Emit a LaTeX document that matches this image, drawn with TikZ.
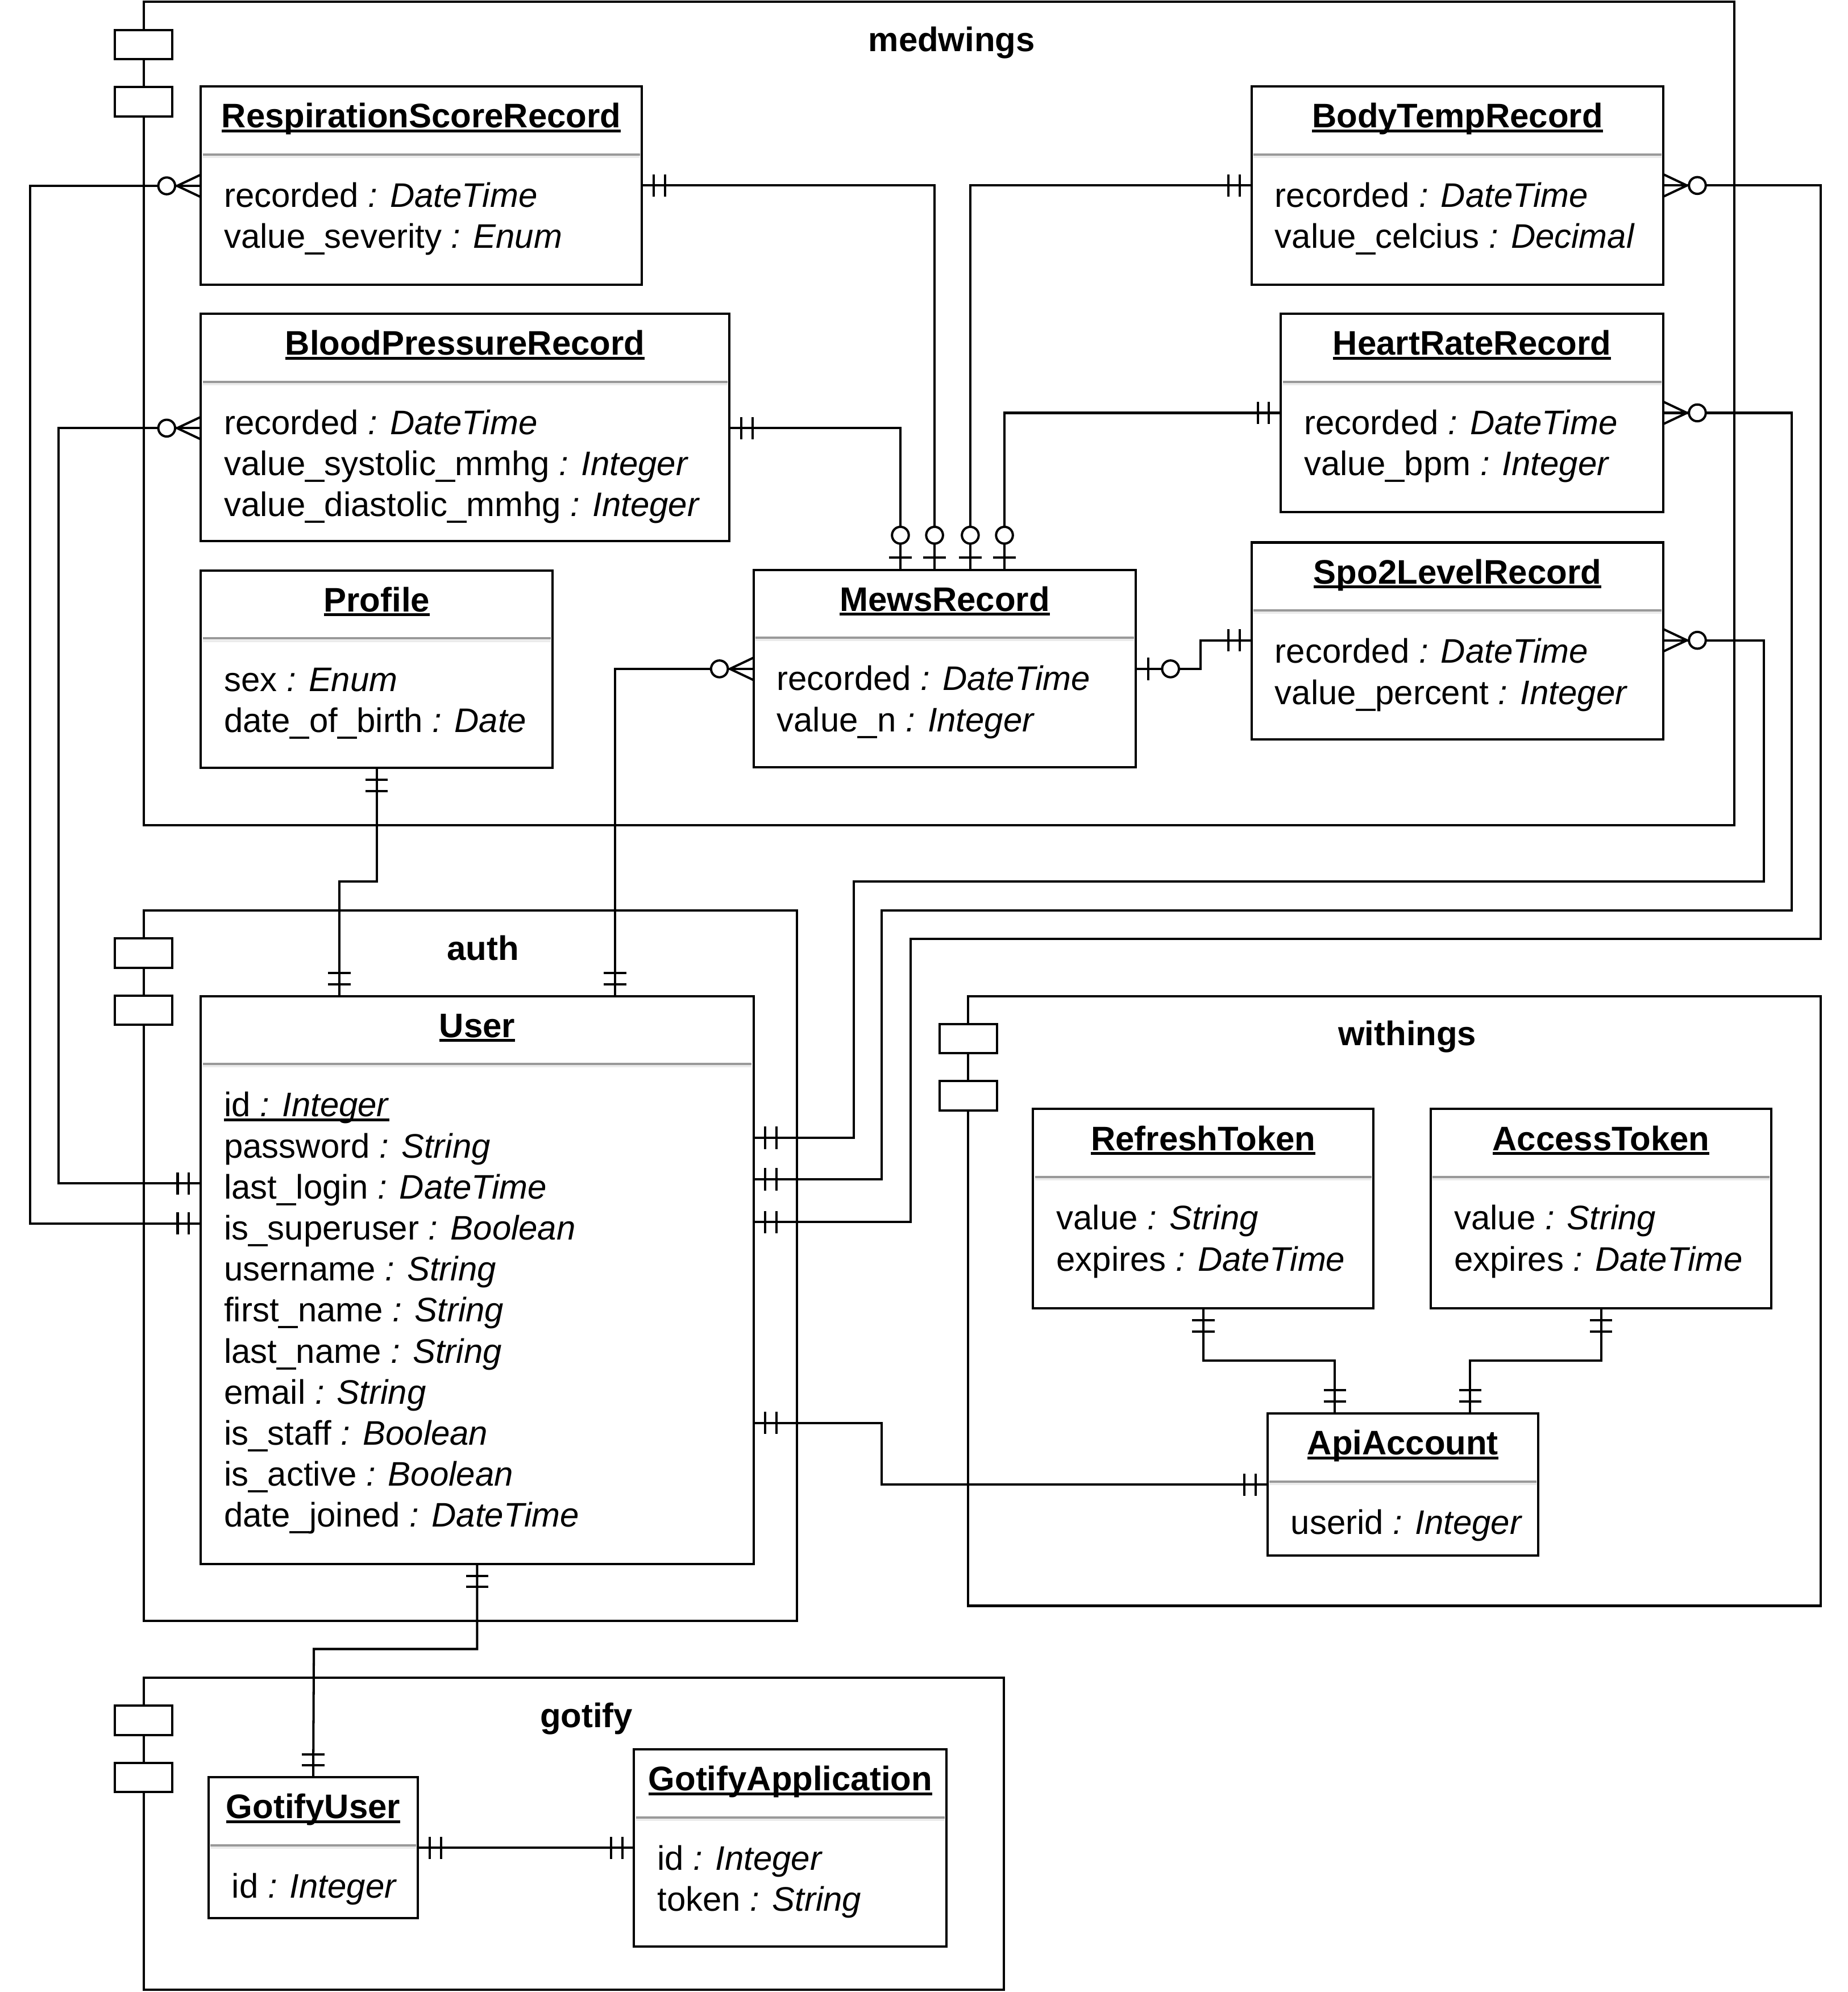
\documentclass[tikz,border=0pt]{standalone}
\usepackage{fontspec}
\setmainfont{Liberation Sans}
\usetikzlibrary{calc}
\definecolor{sepdark}{HTML}{999999}
\definecolor{seplight}{HTML}{EBEBEB}
\newcommand\ulx[1]{\setbox0\hbox{#1}\rlap{\rule[-1.8pt]{\wd0}{1.1pt}}\box0}
\tikzset{
 ebox/.style={draw, fill=white, rectangle, inner sep=0pt, outer sep=0pt, anchor=north west},
 pbox/.style={draw, rectangle, inner sep=0pt, outer sep=0pt, anchor=north west},
 icon/.style={draw, fill=white, rectangle, inner sep=0pt, outer sep=0pt, minimum width=22.5pt, minimum height=11.5pt, anchor=north},
 etitle/.style={inner sep=0pt, anchor=base},
 attr/.style={inner sep=0pt, anchor=base west},
 ptitle/.style={inner sep=0pt, anchor=base, font=\fontsize{13.4pt}{16pt}\selectfont\bfseries},
 sepd/.style={draw=sepdark, line width=0.9pt},
 sepl/.style={draw=seplight, line width=0.9pt},
 conn/.style={draw, line width=0.9pt},
}
\newcommand\entity[6]{%
 \node[ebox, minimum width={#4*0.5pt}, minimum height={#5*0.5pt}] (#1) at (#2,#3) {};
 \node[etitle] (#1-t) at ($(#1.north)+(0,32.5)$) {\ulx{\textbf{#6}}};
 \draw[sepd] ($(#1.north west)+(1.5,53.5)$) -- ($(#1.north east)+(-1.5,53.5)$);
 \draw[sepl] ($(#1.north west)+(1.5,55.4)$) -- ($(#1.north east)+(-1.5,55.4)$);
}
\newcommand\attrs[2]{\foreach \t [count=\i from 0] in {#2}{\node[attr] (#1-a\i) at ($(#1.north west)+(17.5,{95+32.3*\i})$) {\t};}}
\newcommand\package[6]{%
 \node[pbox, minimum width={#4*0.5pt}, minimum height={#5*0.5pt}] (#1) at (#2,#3) {};
 \node[icon] (#1-i1) at ($(#1.north west)+(0,22)$) {};
 \node[icon] (#1-i2) at ($(#1.north west)+(0,67)$) {};
 \node[ptitle] (#1-l) at ($(#1.north)+(10,39)$) {#6};
}
\newcommand\mOne[2]{\begin{scope}[shift={#1},rotate=#2]\draw (9.3,-8.8)--(9.3,8.8) (18.2,-8.8)--(18.2,8.8);\end{scope}}
\newcommand\zOne[2]{\begin{scope}[shift={#1},rotate=#2]\draw (9.5,-8.8)--(9.5,8.8); \draw[fill=white] (27.2,0) circle[radius=6.6];\end{scope}}
\newcommand\zMany[2]{\begin{scope}[shift={#1},rotate=#2]\draw (0,-8.8)--(18.6,0)--(0,8.8); \draw[fill=white] (26.8,0) circle[radius=6.6];\end{scope}}
\begin{document}
\begin{tikzpicture}[x=0.5pt,y=-0.5pt,line width=0.9pt,font=\fontsize{13.4pt}{16pt}\selectfont]
\useasboundingbox (0,0) rectangle (1454,1568);
% packages
\package{medwings}{113}{1.5}{1252}{648}{medwings}
\package{auth}{113}{716.7}{514}{559}{auth}
\package{withings}{762}{784}{671}{480}{withings}
\package{gotify}{113}{1320.6}{677}{245.4}{gotify}
% entities
\entity{rsr}{158}{68}{347}{156}{RespirationScoreRecord}
\attrs{rsr}{recorded \textit{: DateTime},value\_severity \textit{: Enum}}
\entity{btr}{985}{68}{324}{156}{BodyTempRecord}
\attrs{btr}{recorded \textit{: DateTime},value\_celcius \textit{: Decimal}}
\entity{bpr}{158}{247}{416}{179}{BloodPressureRecord}
\attrs{bpr}{recorded \textit{: DateTime},value\_systolic\_mmhg \textit{: Integer},value\_diastolic\_mmhg \textit{: Integer}}
\entity{hrr}{1008}{247}{301}{156}{HeartRateRecord}
\attrs{hrr}{recorded \textit{: DateTime},value\_bpm \textit{: Integer}}
\entity{prof}{158}{449}{277}{155.5}{Profile}
\attrs{prof}{sex \textit{: Enum},date\_of\_birth \textit{: Date}}
\entity{mews}{593}{448.5}{301}{155.5}{MewsRecord}
\attrs{mews}{recorded \textit{: DateTime},value\_n \textit{: Integer}}
\entity{spo2}{985}{427}{324}{155}{Spo2LevelRecord}
\attrs{spo2}{recorded \textit{: DateTime},value\_percent \textit{: Integer}}
\entity{user}{158}{784}{435}{447}{User}
\attrs{user}{\ulx{id \textit{: Integer}},password \textit{: String},last\_login \textit{: DateTime},is\_superuser \textit{: Boolean},username \textit{: String},first\_name \textit{: String},last\_name \textit{: String},email \textit{: String},is\_staff \textit{: Boolean},is\_active \textit{: Boolean},date\_joined \textit{: DateTime}}
\entity{reft}{813}{873}{268}{157}{RefreshToken}
\attrs{reft}{value \textit{: String},expires \textit{: DateTime}}
\entity{acct}{1126}{873}{268}{157}{AccessToken}
\attrs{acct}{value \textit{: String},expires \textit{: DateTime}}
\entity{api}{997.5}{1112.6}{213}{112}{ApiAccount}
\attrs{api}{userid \textit{: Integer}}
\entity{guser}{164}{1399}{165}{111}{GotifyUser}
\attrs{guser}{id \textit{: Integer}}
\entity{gapp}{499}{1377}{246}{155}{GotifyApplication}
\attrs{gapp}{id \textit{: Integer},token \textit{: String}}
% connectors
\draw[conn] (rsr.east |- 0,146) -| (mews.north -| 735.5,0);
\draw[conn] (btr.west |- 0,146) -| (mews.north -| 763.6,0);
\draw[conn] (bpr.east |- 0,337) -| (mews.north -| 708.6,0);
\draw[conn] (hrr.west |- 0,325) -| (mews.north -| 790.5,0);
\draw[conn] (mews.east |- 0,526.5) -| (945,504) -- (spo2.west |- 0,504);
\draw[conn] (spo2.east |- 0,504) -| (1388,694) -| (672,895.6) -- (user.east |- 0,895.6);
\draw[conn] (hrr.east |- 0,325) -| (1410,716.7) -| (694,928.3) -- (user.east |- 0,928.3);
\draw[conn] (btr.east |- 0,146) -| (1433,739) -| (716.7,962) -- (user.east |- 0,962);
\draw[conn] (rsr.west |- 0,146.3) -| (23.6,963) -- (user.west |- 0,963);
\draw[conn] (bpr.west |- 0,337) -| (46,931.5) -- (user.west |- 0,931.5);
\draw[conn] (mews.west |- 0,526.5) -| (user.north -| 484,0);
\draw[conn] (prof.south) |- (267,694) -- (user.north -| 267,0);
\draw[conn] (user.south) |- (247,1298) -- (guser.north);
\draw[conn] (guser.east) -- (gapp.west);
\draw[conn] (user.east |- 0,1120) -| (694,1168.6) -- (api.west);
\draw[conn] (reft.south) |- (1050.5,1071) -- (api.north -| 1050.5,0);
\draw[conn] (acct.south) |- (1157,1071) -- (api.north -| 1157,0);
% markers
\mOne{(rsr.east |- 0,146)}{0} \zOne{(mews.north -| 735.5,0)}{90}
\mOne{(btr.west |- 0,146)}{180} \zOne{(mews.north -| 763.6,0)}{90}
\mOne{(bpr.east |- 0,337)}{0} \zOne{(mews.north -| 708.6,0)}{90}
\mOne{(hrr.west |- 0,325)}{180} \zOne{(mews.north -| 790.5,0)}{90}
\zOne{(mews.east |- 0,526.5)}{0} \mOne{(spo2.west |- 0,504)}{180}
\zMany{(spo2.east |- 0,504)}{0} \mOne{(user.east |- 0,895.6)}{0}
\zMany{(hrr.east |- 0,325)}{0} \mOne{(user.east |- 0,928.3)}{0}
\zMany{(btr.east |- 0,146)}{0} \mOne{(user.east |- 0,962)}{0}
\zMany{(rsr.west |- 0,146.3)}{180} \mOne{(user.west |- 0,963)}{180}
\zMany{(bpr.west |- 0,337)}{180} \mOne{(user.west |- 0,931.5)}{180}
\zMany{(mews.west |- 0,526.5)}{180} \mOne{(user.north -| 484,0)}{90}
\mOne{(prof.south)}{-90} \mOne{(user.north -| 267,0)}{90}
\mOne{(user.south)}{-90} \mOne{(guser.north)}{90}
\mOne{(guser.east)}{0} \mOne{(gapp.west)}{180}
\mOne{(user.east |- 0,1120)}{0} \mOne{(api.west)}{180}
\mOne{(reft.south)}{-90} \mOne{(api.north -| 1050.5,0)}{90}
\mOne{(acct.south)}{-90} \mOne{(api.north -| 1157,0)}{90}
\end{tikzpicture}
\end{document}
